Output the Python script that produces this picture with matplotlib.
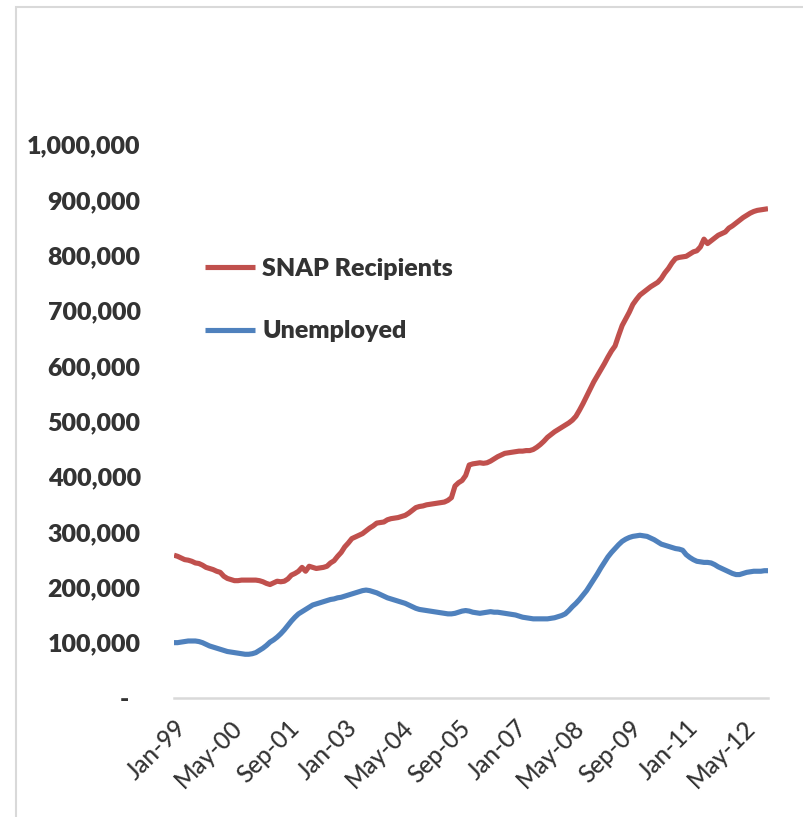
import matplotlib
matplotlib.use("Agg")
import matplotlib.pyplot as plt
from matplotlib.ticker import FuncFormatter, FixedLocator
from matplotlib.patches import Rectangle

# Monthly data, Jan-1999 .. Dec-2012 (values in thousands)
snap_k = [
    258, 256, 253, 250, 249, 247, 244, 243, 240, 236, 234, 232,   # 1999
    229, 227, 220, 216, 214, 212, 212, 213, 213, 213, 213, 213,   # 2000
    212, 210, 207, 205, 208, 211, 210, 211, 215, 222, 225, 229,   # 2001
    236, 229, 238, 236, 234, 235, 236, 238, 244, 248, 256, 263,   # 2002
    273, 280, 288, 291, 294, 297, 302, 307, 311, 316, 317, 318,   # 2003
    322, 324, 325, 326, 328, 330, 334, 339, 344, 346, 347, 349,   # 2004
    350, 351, 352, 353, 354, 357, 362, 383, 389, 393, 402, 421,   # 2005
    423, 424, 425, 424, 425, 428, 432, 436, 439, 442, 443, 444,   # 2006
    445, 446, 446, 447, 447, 449, 453, 458, 464, 471, 476, 481,   # 2007
    485, 489, 493, 497, 502, 509, 520, 532, 545, 558, 571, 582,   # 2008
    593, 604, 616, 627, 636, 655, 673, 685, 697, 711, 720, 728,   # 2009
    733, 738, 743, 747, 751, 758, 768, 776, 786, 794, 796, 797,   # 2010
    798, 802, 806, 808, 815, 829, 821, 826, 831, 836, 839, 842,   # 2011
    849, 853, 858, 863, 868, 872, 876, 879, 881, 882, 883, 884,   # 2012
]
unemp_k = [
    100, 100, 101, 102, 103, 103, 103, 102, 100, 97, 94, 92,      # 1999
    90, 88, 86, 84, 83, 82, 81, 80, 79, 79, 80, 82,               # 2000
    86, 90, 95, 101, 105, 110, 116, 123, 131, 139, 146, 152,      # 2001
    156, 160, 164, 168, 170, 172, 174, 176, 178, 179, 181, 182,   # 2002
    184, 186, 188, 190, 192, 194, 195, 194, 192, 190, 187, 184,   # 2003
    181, 179, 177, 175, 173, 171, 168, 165, 162, 160, 159, 158,   # 2004
    157, 156, 155, 154, 153, 152, 152, 153, 155, 157, 158, 157,   # 2005
    155, 154, 153, 154, 155, 156, 155, 155, 154, 153, 152, 151,   # 2006
    150, 148, 146, 145, 144, 143, 143, 143, 143, 143, 144, 145,   # 2007
    147, 149, 152, 158, 165, 171, 178, 186, 194, 204, 214, 224,   # 2008
    235, 245, 255, 263, 270, 277, 283, 287, 290, 292, 293, 294,   # 2009
    293, 292, 289, 286, 282, 278, 276, 274, 272, 270, 269, 267,   # 2010
    259, 254, 250, 247, 246, 245, 245, 244, 241, 237, 234, 231,   # 2011
    228, 225, 223, 223, 225, 227, 228, 229, 229, 229, 230, 230,   # 2012
]
months = ["Jan", "Feb", "Mar", "Apr", "May", "Jun",
          "Jul", "Aug", "Sep", "Oct", "Nov", "Dec"]
years = list(range(1999, 2013))
categories = [f"{m}-{y % 100:02d}" for y in years for m in months]
series_names = ["SNAP Recipients", "Unemployed"]
y_ticks = [0, 100000, 200000, 300000, 400000, 500000,
           600000, 700000, 800000, 900000, 1000000]

snap = [v * 1000 for v in snap_k]
unemp = [v * 1000 for v in unemp_k]
x = list(range(len(categories)))

RED = "#C0504D"
BLUE = "#4F81BD"
TXT = "#333333"
GRID = "#D9D9D9"

W, H = 804, 817
fig = plt.figure(figsize=(W / 100, H / 100), dpi=100)
ax = fig.add_axes([174 / W, 1 - 698 / H, (768 - 174) / W, (698 - 144.5) / H])

ax.plot(x, snap, color=RED, lw=3.7, label=series_names[0], solid_capstyle="butt")
ax.plot(x, unemp, color=BLUE, lw=3.7, label=series_names[1], solid_capstyle="butt")

ax.set_xlim(0, len(categories) - 1)
ax.set_ylim(0, 1000000)

for s in ["top", "right", "left"]:
    ax.spines[s].set_visible(False)
ax.spines["bottom"].set_color(GRID)
ax.spines["bottom"].set_linewidth(1.8)

ax.yaxis.set_major_locator(FixedLocator(y_ticks))
ax.yaxis.set_major_formatter(FuncFormatter(lambda v, p: "-  " if v == 0 else f"{int(v):,}"))
tick_idx = list(range(0, len(categories), 16))
ax.set_xticks(tick_idx)
ax.set_xticklabels([categories[i] for i in tick_idx])

ax.tick_params(axis="y", length=0, pad=24, labelsize=18, labelcolor=TXT)
ax.tick_params(axis="x", length=0, pad=13, labelsize=17.5, labelcolor=TXT)
for lab in ax.get_yticklabels():
    lab.set_fontfamily("Lato")
    lab.set_fontweight("heavy")
for lab in ax.get_xticklabels():
    lab.set_fontfamily("Lato")
    lab.set_fontweight("medium")
    lab.set_rotation(45)
    lab.set_ha("right")
    lab.set_va("top")
    lab.set_rotation_mode("anchor")

leg = ax.legend(loc="upper left", bbox_to_anchor=(205 / W, 1 - 258 / H),
                bbox_transform=fig.transFigure, frameon=False,
                prop={"family": "Lato", "weight": "heavy", "size": 18},
                handlelength=2.0, handletextpad=0.3, labelspacing=1.62,
                borderpad=0, borderaxespad=0)
for t in leg.get_texts():
    t.set_color(TXT)
for h in leg.get_lines():
    h.set_linewidth(3.7)

# chart-area frame (cropped at right and bottom)
fig.patches.append(Rectangle((16 / W, -0.1), 1.2, 1 - 7 / H + 0.1,
                             transform=fig.transFigure, fill=False,
                             edgecolor=GRID, lw=1.5))

fig.savefig("out.png", dpi=100)
